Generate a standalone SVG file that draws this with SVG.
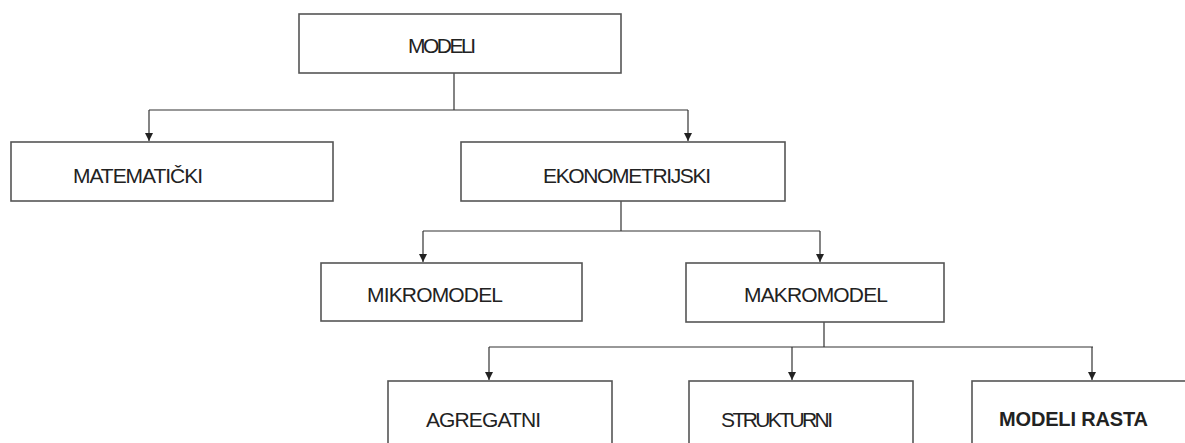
<svg xmlns="http://www.w3.org/2000/svg" width="1185" height="443" viewBox="0 0 1185 443">
<style>
.box{fill:#fff;stroke:#555;stroke-width:1.6}
.t{font-family:"Liberation Sans",Arial,sans-serif;font-size:21px;fill:#222}
.b{font-weight:bold;font-size:20px}
.c{fill:none;stroke:#333;stroke-width:1.2}
</style>
<defs>
<marker id="ah" viewBox="0 0 8 10" refX="8" refY="5" markerWidth="8" markerHeight="10" markerUnits="userSpaceOnUse" orient="auto">
<path d="M0,1 L8,5 L0,9 Z" fill="#222"/>
</marker>
</defs>
<rect x="0" y="0" width="1185" height="443" fill="#fff"/>
<g id="connectors">
<path class="c" d="M454,73 V110 M149,110 H688 M621,201 V231 M423,231 H820 M824,322 V347 M489,347 H1093"/>
<path class="c" d="M149,110 V141" marker-end="url(#ah)"/>
<path class="c" d="M688,110 V141" marker-end="url(#ah)"/>
<path class="c" d="M423,231 V262" marker-end="url(#ah)"/>
<path class="c" d="M820,231 V262" marker-end="url(#ah)"/>
<path class="c" d="M489,347 V380" marker-end="url(#ah)"/>
<path class="c" d="M792,347 V380" marker-end="url(#ah)"/>
<path class="c" d="M1092,347 V380" marker-end="url(#ah)"/>
</g>
<g id="modeli"><rect class="box" x="299" y="14" width="322" height="59"/><text class="t" x="408" y="53" textLength="68" lengthAdjust="spacing">MODELI</text></g>
<g id="matematicki"><rect class="box" x="11" y="142" width="322" height="59"/><text class="t" x="73" y="183" textLength="130" lengthAdjust="spacing">MATEMATIČKI</text></g>
<g id="ekonometrijski"><rect class="box" x="461" y="142" width="324" height="59"/><text class="t" x="543" y="183" textLength="168" lengthAdjust="spacing">EKONOMETRIJSKI</text></g>
<g id="mikromodel"><rect class="box" x="321" y="263" width="261" height="58"/><text class="t" x="367" y="302" textLength="136" lengthAdjust="spacing">MIKROMODEL</text></g>
<g id="makromodel"><rect class="box" x="686" y="263" width="258" height="59"/><text class="t" x="744" y="302" textLength="144" lengthAdjust="spacing">MAKROMODEL</text></g>
<g id="agregatni"><rect class="box" x="388" y="381" width="224" height="80"/><text class="t" x="426" y="427" textLength="115" lengthAdjust="spacing">AGREGATNI</text></g>
<g id="strukturni"><rect class="box" x="689" y="381" width="224" height="80"/><text class="t" x="721" y="427" textLength="112" lengthAdjust="spacing">STRUKTURNI</text></g>
<g id="modeli-rasta"><rect class="box" x="972" y="381" width="240" height="80"/><text class="t b" x="999" y="426" textLength="149" lengthAdjust="spacing">MODELI RASTA</text></g>
</svg>
